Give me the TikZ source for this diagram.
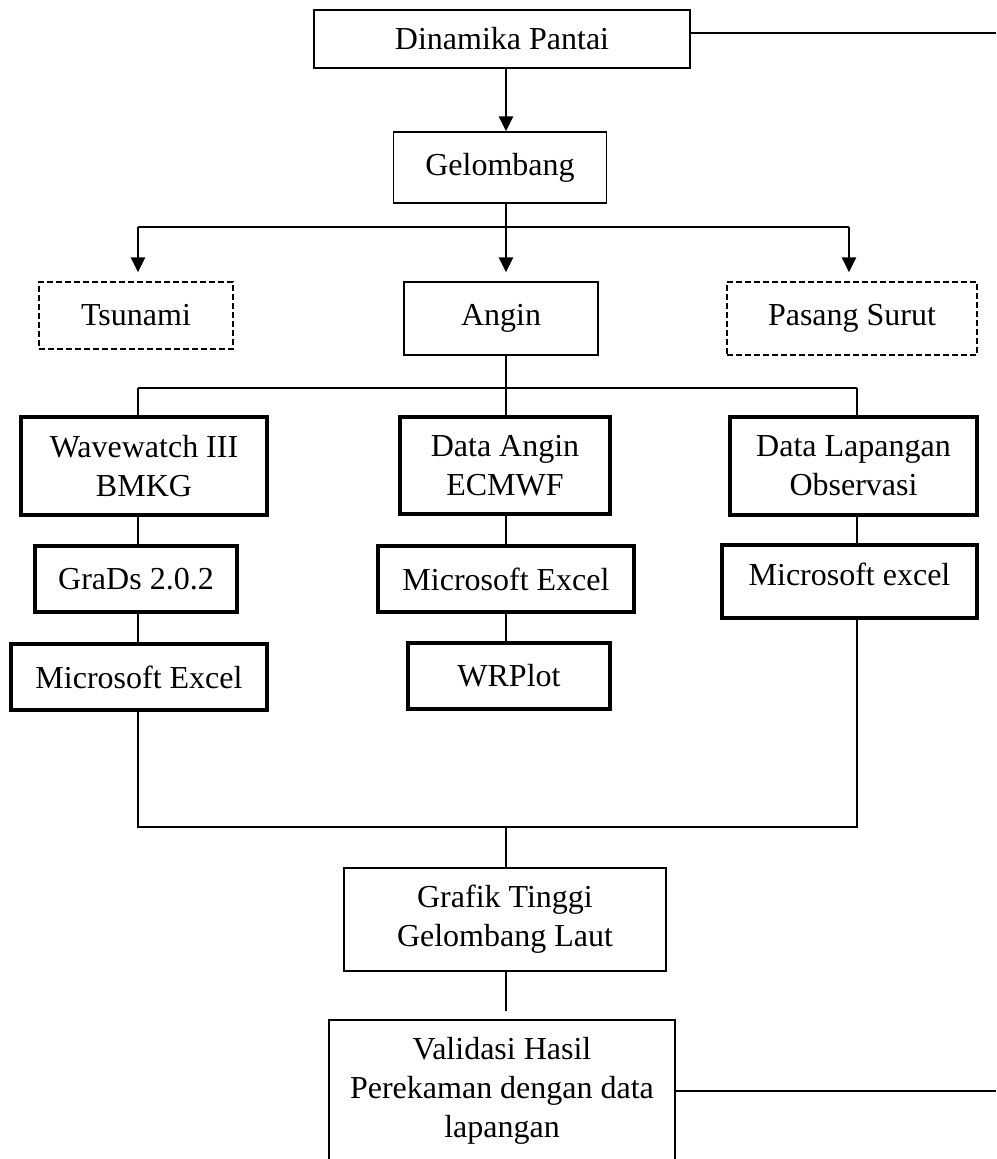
\documentclass[tikz,border=0pt]{standalone}
\usepackage{fontspec}
\setmainfont{Liberation Serif}
\usetikzlibrary{arrows.meta}
\begin{document}
\begin{tikzpicture}[x=1pt,y=-1pt,
  box/.style={draw=black,line width=1.3pt,rectangle,inner sep=0pt,align=center,font=\fontsize{32}{39}\selectfont},
  thickbox/.style={box,line width=3.2pt},
  dashbox/.style={box,dash pattern=on 6pt off 3pt},
  conn/.style={line width=1.3pt},
  arr/.style={line width=2.4pt,-{Triangle[length=15pt,width=14pt]}}]
\useasboundingbox (0,0) rectangle (996,1159);
\clip (0,0) rectangle (996,1159);
\coordinate (xC) at (506,0);
\coordinate (xL) at (138,0);
\coordinate (xR) at (849,0);
\coordinate (xR2) at (857,0);
\coordinate (yA) at (0,227);
\coordinate (yB) at (0,388);
\coordinate (yM) at (0,827);
\coordinate (eTop) at (996,33);
\coordinate (eBot) at (996,1091);

\node[box,minimum width=376pt,minimum height=58pt] (dp) at (502,39) {Dinamika Pantai};
\node[box,minimum width=213pt,minimum height=71pt] (gel) at (500,167.5) {Gelombang};
\node[dashbox,minimum width=194pt,minimum height=67pt] (tsu) at (136,315.5) {Tsunami};
\node[box,minimum width=194pt,minimum height=73pt] (ang) at (501,318.5) {Angin};
\node[dashbox,minimum width=250pt,minimum height=73pt] (pas) at (852,318.5) {Pasang Surut};
\node[thickbox,minimum width=246pt,minimum height=98pt] (ww) at (144,466) {Wavewatch III\\BMKG};
\node[thickbox,minimum width=210pt,minimum height=97pt] (da) at (505,465.5) {Data Angin\\ECMWF};
\node[thickbox,minimum width=247pt,minimum height=98pt] (dl) at (853.5,466) {Data Lapangan\\Observasi};
\node[thickbox,minimum width=202pt,minimum height=66pt] (gr) at (136,579) {GraDs 2.0.2};
\node[thickbox,minimum width=256pt,minimum height=66pt] (me1) at (139,677) {Microsoft Excel};
\node[thickbox,minimum width=256pt,minimum height=66pt] (me2) at (506,579) {Microsoft Excel};
\node[thickbox,minimum width=202pt,minimum height=66pt] (wr) at (509,676) {WRPlot};
\node[thickbox,minimum width=255pt,minimum height=73pt,text depth=14pt] (me3) at (849.5,581.5) {Microsoft excel};
\node[box,minimum width=322pt,minimum height=103pt] (gt) at (505,919.5) {Grafik Tinggi\\Gelombang Laut};
\node[box,minimum width=346pt,minimum height=142pt] (va) at (502,1091) {Validasi Hasil\\Perekaman dengan data\\lapangan};

% top
\draw[conn] (dp.east |- eTop) -- (eTop);
\draw[arr] (dp.south -| xC) -- (gel.north -| xC);
\draw[conn] (gel.south -| xC) -- (xC |- yA);
\draw[conn] (xL |- yA) -- (xR |- yA);
\draw[arr,shorten >=9pt] (xL |- yA) -- (tsu.north -| xL);
\draw[arr,shorten >=9pt] (xC |- yA) -- (ang.north -| xC);
\draw[arr,shorten >=9pt] (xR |- yA) -- (pas.north -| xR);
% second split
\draw[conn] (ang.south -| xC) -- (xC |- yB);
\draw[conn] (xL |- yB) -- (xR2 |- yB);
\draw[conn] (xL |- yB) -- (ww.north -| xL);
\draw[conn] (xC |- yB) -- (da.north -| xC);
\draw[conn] (xR2 |- yB) -- (dl.north -| xR2);
% columns
\draw[conn] (ww.south -| xL) -- (gr.north -| xL);
\draw[conn] (gr.south -| xL) -- (me1.north -| xL);
\draw[conn] (da.south -| xC) -- (me2.north -| xC);
\draw[conn] (me2.south -| xC) -- (wr.north -| xC);
\draw[conn] (dl.south -| xR2) -- (me3.north -| xR2);
% merge
\draw[conn] (me1.south -| xL) -- (xL |- yM) -- (xR2 |- yM) -- (me3.south -| xR2);
\draw[conn] (xC |- yM) -- (gt.north -| xC);
\draw[conn,shorten >=8pt] (gt.south -| xC) -- (va.north -| xC);
\draw[conn] (va.east |- eBot) -- (eBot);
\end{tikzpicture}
\end{document}
